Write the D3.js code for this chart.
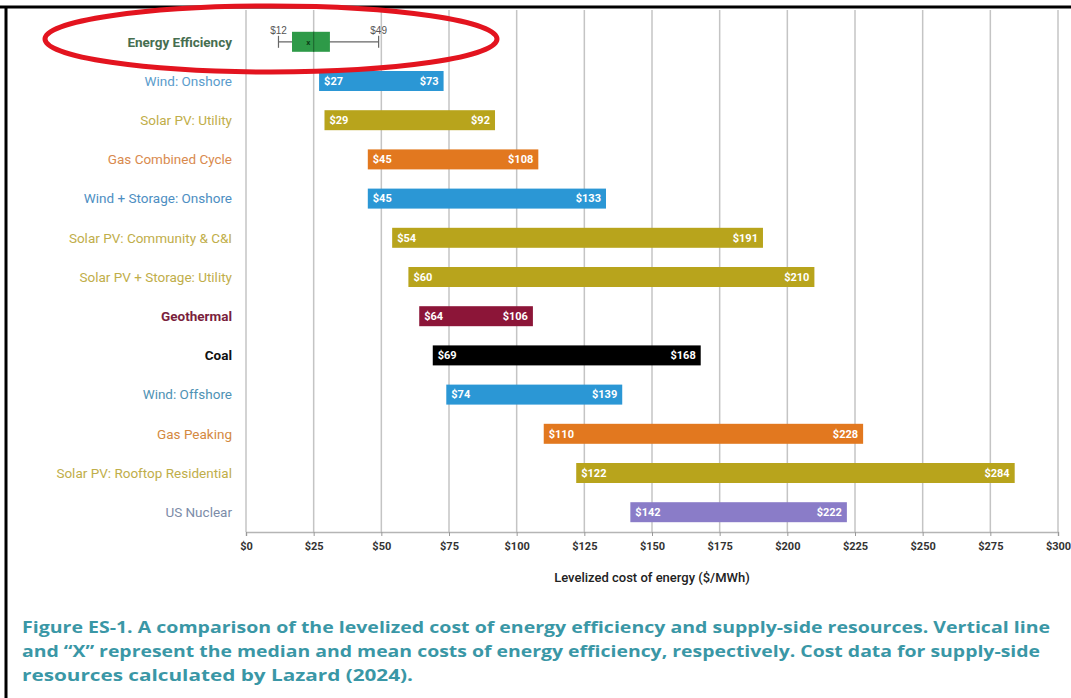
<!DOCTYPE html>
<html>
<head>
<meta charset="utf-8">
<script src="https://cdn.jsdelivr.net/npm/d3@7"></script>
<style>
  html, body { margin: 0; padding: 0; background: #fff; }
  svg { display: block; }
</style>
</head>
<body>
<svg id="chart" width="1071" height="698"></svg>
<script>
// ---------- data ----------
const categories = [
  "Energy Efficiency", "Wind: Onshore", "Solar PV: Utility", "Gas Combined Cycle",
  "Wind + Storage: Onshore", "Solar PV: Community & C&I", "Solar PV + Storage: Utility",
  "Geothermal", "Coal", "Wind: Offshore", "Gas Peaking",
  "Solar PV: Rooftop Residential", "US Nuclear"
];
const lowValues  = [12, 27, 29, 45, 45, 54, 60, 64, 69, 74, 110, 122, 142];
const highValues = [49, 73, 92, 108, 133, 191, 210, 106, 168, 139, 228, 284, 222];
const barColors = ["#2e9a48", "#2b97d5", "#b8a41c", "#e2781f", "#2b97d5", "#b8a41c", "#b8a41c",
                   "#8c1538", "#000000", "#2b97d5", "#e2781f", "#b8a41c", "#8a7cc8"];
const labelColors = ["#466e50", "#5a9ccc", "#bfae4a", "#d98a4e", "#4d8ec2", "#bfae4a", "#bfae4a",
                     "#7a1f3d", "#111111", "#4f92b4", "#d4893f", "#bfae4a", "#7c8ca8"];
// energy efficiency box: q1, median, q3 ; mean
const eeBox = [17, 25, 31];
const eeMean = [23];
const tickValues = [0, 25, 50, 75, 100, 125, 150, 175, 200, 225, 250, 275, 300];
const tickLabels = ["$0", "$25", "$50", "$75", "$100", "$125", "$150", "$175", "$200", "$225", "$250", "$275", "$300"];
const axisTitle = "Levelized cost of energy ($/MWh)";
const captionLines = [
  "Figure ES-1. A comparison of the levelized cost of energy efficiency and supply-side resources. Vertical line",
  "and \u201CX\u201D represent the median and mean costs of energy efficiency, respectively. Cost data for supply-side",
  "resources calculated by Lazard (2024)."
];

// ---------- layout ----------
const svg = d3.select("#chart");
const pLeft = 246, pRight = 1058, pTop = 10, pBottom = 532;
const x = d3.scaleLinear().domain([0, 300]).range([pLeft, pRight]);
const y = d3.scaleBand().domain(categories).range([22, pBottom]).paddingInner(0.49).paddingOuter(0.25);

// frame
svg.append("line").attr("x1", 0).attr("x2", 1071).attr("y1", 7).attr("y2", 7)
  .attr("stroke", "#000").attr("stroke-width", 3);
svg.append("line").attr("x1", 6).attr("x2", 6).attr("y1", 6).attr("y2", 698)
  .attr("stroke", "#000").attr("stroke-width", 3);

// gridlines
svg.append("g").selectAll("line").data(tickValues).join("line")
  .attr("x1", d => x(d)).attr("x2", d => x(d))
  .attr("y1", pTop).attr("y2", pBottom)
  .attr("stroke", "#c4c4c4").attr("stroke-width", 1.5);

// x axis
const xAxis = d3.axisBottom(x).tickValues(tickValues)
  .tickFormat((d, i) => tickLabels[i]).tickSize(4).tickPadding(6);
const gx = svg.append("g").attr("transform", `translate(0,${pBottom})`).call(xAxis);
gx.select(".domain").attr("stroke", "#b5b5b5").attr("stroke-width", 1.5);
gx.selectAll(".tick line").attr("stroke", "#999");
gx.selectAll("text").attr("font-family", "Liberation Sans Narrow, Roboto, sans-serif")
  .attr("font-size", 11).attr("font-weight", "bold").attr("fill", "#333");

svg.append("text").attr("x", (pLeft + pRight) / 2).attr("y", 582)
  .attr("text-anchor", "middle").attr("font-family", "Roboto, sans-serif")
  .attr("font-size", 13).attr("font-weight", 500).attr("fill", "#222").text(axisTitle);

// category labels
svg.append("g").selectAll("text").data(categories).join("text")
  .attr("x", 232).attr("y", d => y(d) + y.bandwidth() / 2)
  .attr("dy", "0.35em").attr("text-anchor", "end")
  .attr("font-family", "Roboto, sans-serif").attr("font-size", 13.5)
  .attr("font-weight", (d, i) => (i === 0 || i === 7 || i === 8) ? "bold" : "normal")
  .attr("fill", (d, i) => labelColors[i]).text(d => d);

// range bars (skip energy efficiency)
const barIdx = d3.range(1, categories.length);
const bars = svg.append("g");
bars.selectAll("rect").data(barIdx).join("rect")
  .attr("x", i => x(lowValues[i])).attr("width", i => x(highValues[i]) - x(lowValues[i]))
  .attr("y", i => y(categories[i])).attr("height", y.bandwidth())
  .attr("fill", i => barColors[i]);
bars.selectAll("text.lo").data(barIdx).join("text").attr("class", "lo")
  .attr("x", i => x(lowValues[i]) + 5).attr("y", i => y(categories[i]) + y.bandwidth() / 2)
  .attr("dy", "0.35em").attr("font-family", "Liberation Sans Narrow, Roboto, sans-serif")
  .attr("font-size", 11).attr("font-weight", "bold").attr("fill", "#fff")
  .text(i => "$" + lowValues[i]);
bars.selectAll("text.hi").data(barIdx).join("text").attr("class", "hi")
  .attr("x", i => x(highValues[i]) - 5).attr("y", i => y(categories[i]) + y.bandwidth() / 2)
  .attr("dy", "0.35em").attr("text-anchor", "end")
  .attr("font-family", "Liberation Sans Narrow, Roboto, sans-serif")
  .attr("font-size", 11).attr("font-weight", "bold").attr("fill", "#fff")
  .text(i => "$" + highValues[i]);

// energy efficiency box plot
const ee = svg.append("g");
const cy = y(categories[0]) + y.bandwidth() / 2;
ee.append("line").attr("x1", x(lowValues[0])).attr("x2", x(highValues[0]))
  .attr("y1", cy).attr("y2", cy).attr("stroke", "#666").attr("stroke-width", 1.2);
[lowValues[0], highValues[0]].forEach(v => {
  ee.append("line").attr("x1", x(v)).attr("x2", x(v)).attr("y1", cy - 6).attr("y2", cy + 6)
    .attr("stroke", "#666").attr("stroke-width", 1.2);
});
ee.append("rect").attr("x", x(eeBox[0])).attr("width", x(eeBox[2]) - x(eeBox[0]))
  .attr("y", cy - 10).attr("height", 20).attr("fill", barColors[0]);
ee.append("line").attr("x1", x(eeBox[1])).attr("x2", x(eeBox[1]))
  .attr("y1", cy - 10).attr("y2", cy + 10).attr("stroke", "#1d6b30").attr("stroke-width", 1.2);
ee.append("text").attr("x", x(eeMean[0])).attr("y", cy).attr("dy", "0.35em")
  .attr("text-anchor", "middle").attr("font-family", "Roboto, sans-serif")
  .attr("font-size", 8).attr("font-weight", "bold").attr("fill", "#0d3d18").text("x");
ee.append("text").attr("x", x(lowValues[0])).attr("y", cy - 8).attr("text-anchor", "middle")
  .attr("font-family", "Liberation Sans Narrow, sans-serif").attr("font-size", 10)
  .attr("fill", "#555").text("$" + lowValues[0]);
ee.append("text").attr("x", x(highValues[0])).attr("y", cy - 8).attr("text-anchor", "middle")
  .attr("font-family", "Liberation Sans Narrow, sans-serif").attr("font-size", 10)
  .attr("fill", "#555").text("$" + highValues[0]);

// red annotation ellipse
svg.append("ellipse").attr("cx", 271).attr("cy", 39).attr("rx", 226).attr("ry", 33)
  .attr("fill", "none").attr("stroke", "#e3141f").attr("stroke-width", 5);

// caption
const capLens = [1028, 1018, 391];
svg.append("g").selectAll("text").data(captionLines).join("text")
  .attr("x", 22).attr("y", (d, i) => 633 + i * 24)
  .attr("font-family", "Open Sans, sans-serif").attr("font-size", 15.5)
  .attr("font-weight", "bold").attr("fill", "#3a97a6")
  .attr("textLength", (d, i) => capLens[i]).attr("lengthAdjust", "spacingAndGlyphs")
  .text(d => d);
</script>
</body>
</html>
